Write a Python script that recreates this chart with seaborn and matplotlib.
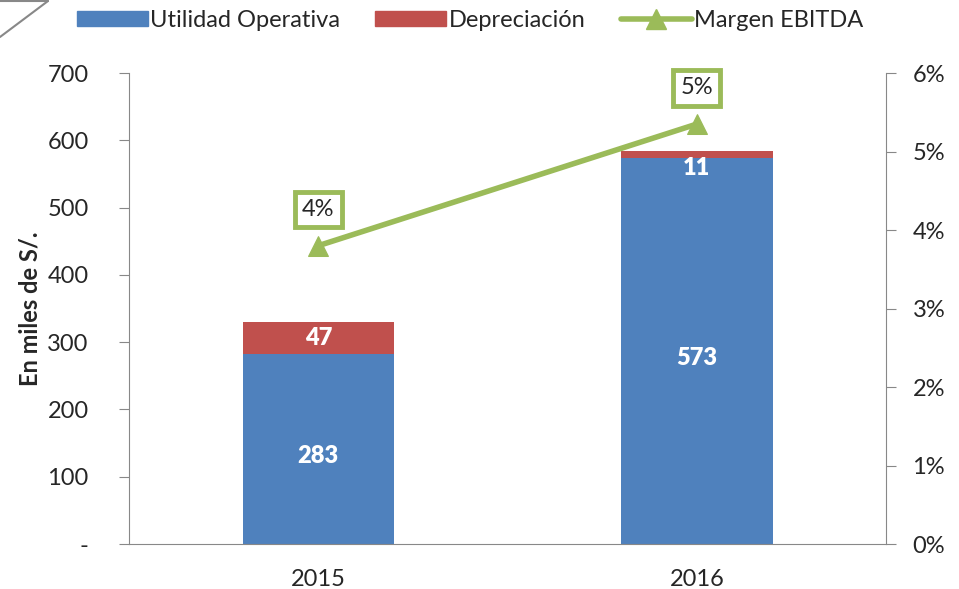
import numpy as np
import pandas as pd
import matplotlib
matplotlib.use('Agg')
import matplotlib.pyplot as plt
import seaborn as sns
from matplotlib.patches import Patch
from matplotlib.lines import Line2D

# datos
anios = ['2015', '2016']
utilidad = [283, 573]
depreciacion = [47, 11]
margen = [3.8, 5.35]
margen_txt = ['4%', '5%']

azul = '#4F81BD'
rojo = '#C0504D'
verde = '#9BBB59'
gris = '#888888'

sns.set_style('white')
plt.rcParams['font.family'] = ['Lato', 'DejaVu Sans']

df = pd.DataFrame({'anio': anios, 'utilidad': utilidad, 'depreciacion': depreciacion, 'margen': margen})
df['total'] = df['utilidad'] + df['depreciacion']

fig = plt.figure(figsize=(9.59, 5.89), dpi=100)
ax = fig.add_axes([0.1345, 0.0764, 0.7895, 0.7996])

# barras apiladas: total primero, luego utilidad encima
sns.barplot(x='anio', y='total', data=df, color=rojo, width=0.4, saturation=1, linewidth=0, ax=ax)
sns.barplot(x='anio', y='utilidad', data=df, color=azul, width=0.4, saturation=1, linewidth=0, ax=ax)

ax.set_xlim(-0.5, 1.5)
ax.set_ylim(0, 700)
ax.set_yticks(range(0, 701, 100))
ax.set_yticklabels(['-'] + [str(v) for v in range(100, 701, 100)])
ax.set_xlabel('')
ax.set_ylabel('En miles de S/.', fontsize=17, fontweight='bold', labelpad=4)
ax.set_xticks([0, 1])
ax.set_xticklabels(anios)
ax.set_xticks([-0.5, 0.5, 1.5], minor=True)
ax.tick_params(axis='x', which='major', length=0, labelsize=17, pad=18)
ax.tick_params(axis='x', which='minor', length=7, color=gris, direction='out')
ax.tick_params(axis='y', length=7, color=gris, direction='out', labelsize=17, left=True, pad=22)
for s in ['top', 'right']:
    ax.spines[s].set_visible(False)
for s in ['left', 'bottom']:
    ax.spines[s].set_color(gris)

# etiquetas de datos
for i in range(len(anios)):
    ax.text(i, utilidad[i] / 2 - 10, str(utilidad[i]), ha='center', va='center',
            color='white', fontsize=17, fontweight='heavy')
    if depreciacion[i] > 20:
        ax.text(i, utilidad[i] + depreciacion[i] / 2, str(depreciacion[i]), ha='center', va='center',
                color='white', fontsize=17, fontweight='heavy')
    else:
        ax.text(i, utilidad[i] - 14, str(depreciacion[i]), ha='center', va='center',
                color='white', fontsize=17, fontweight='heavy')

# margen EBITDA en eje secundario
ax2 = ax.twinx()
sns.lineplot(x=[0, 1], y=margen, ax=ax2, color=verde, linewidth=4, marker='^',
             markersize=14, markeredgecolor=verde, legend=False)
ax2.set_ylim(0, 6)
ax2.set_yticks(range(0, 7))
ax2.set_yticklabels([f'{v}%' for v in range(0, 7)])
ax2.tick_params(axis='y', length=7, color=gris, direction='out', labelsize=17, right=True, pad=12)
for s in ['top', 'left', 'bottom']:
    ax2.spines[s].set_visible(False)
ax2.spines['right'].set_color(gris)

for i in range(len(anios)):
    ax2.annotate(margen_txt[i], (i, margen[i]), xytext=(0, 26), textcoords='offset points',
                 ha='center', va='center', fontsize=17,
                 bbox=dict(boxstyle='square,pad=0.3', fc='white', ec=verde, lw=3.5))

# leyenda
handles = [Patch(color=azul, label='Utilidad Operativa'),
           Patch(color=rojo, label='Depreciación'),
           Line2D([0], [0], color=verde, lw=4, marker='^', markersize=14, label='Margen EBITDA')]
fig.legend(handles=handles, loc='center', bbox_to_anchor=(0.49, 0.965), ncol=3, frameon=False,
           fontsize=17, handlelength=3.0, handleheight=0.6, handletextpad=0.1, columnspacing=1.5)

# forma decorativa en la esquina
fig.add_artist(Line2D([0, 48 / 959], [1 - 37 / 589, 1 - 1 / 589], color=gris, lw=1.5, transform=fig.transFigure))
fig.add_artist(Line2D([0, 48 / 959], [1 - 1 / 589, 1 - 1 / 589], color=gris, lw=1.5, transform=fig.transFigure))

plt.savefig('out.png', dpi=100)
